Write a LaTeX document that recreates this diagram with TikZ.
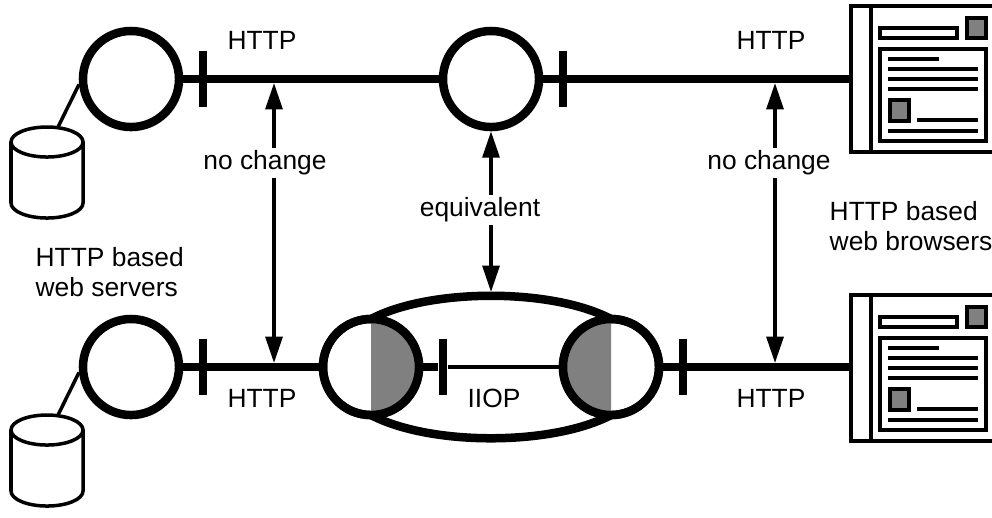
\documentclass[tikz,border=0pt]{standalone}
\usepackage{fontspec}
\setmainfont{Liberation Sans}
\usepackage{tikz}
\usetikzlibrary{arrows.meta}

\begin{document}
\begin{tikzpicture}[x=0.01cm, y=-0.01cm,
    font=\fontsize{7.5}{8.5}\selectfont,
    host/.style={circle, draw=black, fill=white, line width=0.085cm, minimum size=0.96cm, inner sep=0pt},
    stopbar/.style={fill=black, minimum width=0.085cm, minimum height=0.56cm, inner sep=0pt},
    heavy/.style={line width=0.085cm},
    light/.style={line width=0.035cm},
    link/.style={light, {Triangle[length=7.5pt, width=4.8pt]}-{Triangle[length=7.5pt, width=4.8pt]}},
    tag/.style={fill=white, inner sep=0.8pt},
    shade/.style={fill=black!50}]
    \useasboundingbox (0,0) rectangle (992,517);

    % Servers with their disks
    \foreach \name/\yy in {A/0,B/288} {
        \begin{scope}[shift={(0,\yy)}]
            \node[host] (srv\name) at (131,79) {};
            \coordinate (disk\name) at (58,127);
            \draw[light] (srv\name.186) -- (disk\name);
            \draw[light, fill=white] (47,142) ellipse [x radius=0.36cm, y radius=0.15cm];
            \draw[light] (11,142) -- (11,203) arc [start angle=180, end angle=360, x radius=0.36cm, y radius=0.15cm] -- (83,142);
        \end{scope}
    }

    % Browsers
    \foreach \name/\yy in {A/0,B/289} {
        \begin{scope}[shift={(0,\yy)}]
            \draw[light] (992,6) -- (851,6) -- (851,152) -- (992,152);
            \draw[light] (871,6) -- (871,152);
            \draw[light] (880,28) rectangle (957,38);
            \draw[light, shade] (967,18) rectangle (986,38);
            \draw[light] (880,49) rectangle (986,141);
            \draw[light] (888,59) -- (939,59);
            \draw[light] (888,69) -- (978,69);
            \draw[light] (888,79) -- (978,79);
            \draw[light] (888,89) -- (978,89);
            \draw[light, shade] (890,100) rectangle (909,121);
            \draw[light] (917,120) -- (978,120);
            \draw[light] (888,131) -- (978,131);
        \end{scope}
    }
    \coordinate (brwA) at (851,79);
    \coordinate (brwB) at (851,367);

    % Upper row
    \node[host] (midA) at (491,79) {};
    \draw[heavy] (srvA) -- (midA);
    \draw[heavy] (midA) -- (brwA);
    \node[stopbar] (barA) at (203,79) {};
    \node[stopbar] (barB) at (563,79) {};
    \node (httpA) at (262,40) {HTTP};
    \node (httpB) at (771,40) {HTTP};

    % Lower row
    \coordinate (capL) at (371,319);
    \coordinate (capR) at (611,319);
    \coordinate (capLb) at (371,415);
    \coordinate (capRb) at (611,415);
    \draw[heavy] (capL) .. controls (430,288) and (552,288) .. (capR);
    \draw[heavy] (capLb) .. controls (430,446) and (552,446) .. (capRb);
    \node[host] (gwL) at (371,367) {};
    \node[host] (gwR) at (611,367) {};
    \fill[shade] (capL) arc [start angle=90, end angle=-90, radius=0.48cm] -- cycle;
    \fill[shade] (capR) arc [start angle=90, end angle=270, radius=0.48cm] -- cycle;
    \node[host, fill=none] (rimL) at (gwL) {};
    \node[host, fill=none] (rimR) at (gwR) {};
    \node[stopbar] (barC) at (203,367) {};
    \node[stopbar] (barD) at (443,367) {};
    \node[stopbar] (barE) at (683,367) {};
    \draw[heavy] (srvB) -- (gwL);
    \draw[heavy] (gwL) -- (barD);
    \draw[light] (barD) -- (gwR);
    \draw[heavy] (gwR) -- (brwB);
    \node (httpC) at (262,398) {HTTP};
    \node (httpD) at (771,398) {HTTP};
    \node (iiop) at (494,398) {IIOP};

    % Arrows between the rows
    \coordinate (upL) at (274,83);
    \coordinate (dnL) at (274,363);
    \coordinate (upR) at (775,83);
    \coordinate (dnR) at (775,363);
    \coordinate (dnM) at (491,292);
    \draw[link] (upL) -- (dnL);
    \draw[link] (midA) -- (dnM);
    \draw[link] (upR) -- (dnR);
    \node[tag] (chgL) at (265,163) {no change};
    \node[tag] (equiv) at (480,210) {equivalent};
    \node[tag] (chgR) at (769,163) {no change};

    % Captions
    \node[anchor=west, align=left, inner sep=0pt] (capSrv) at (35,272) {HTTP based\\web servers};
    \node[anchor=west, align=left, inner sep=0pt] (capBrw) at (829,226) {HTTP based\\web browsers};
\end{tikzpicture}
\end{document}
